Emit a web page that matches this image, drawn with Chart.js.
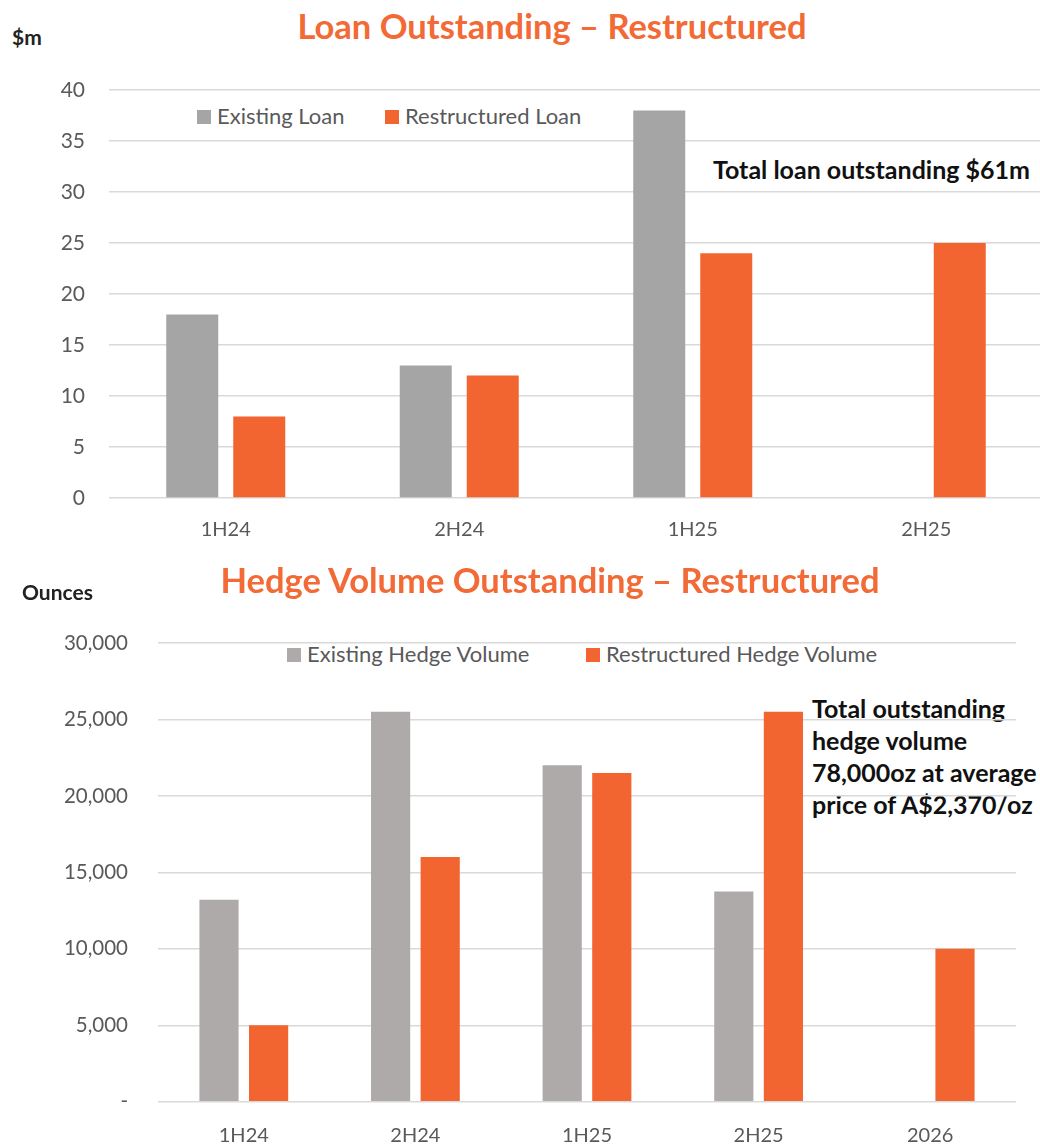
<!DOCTYPE html>
<html>
<head>
<meta charset="utf-8">
<script src="https://cdn.jsdelivr.net/npm/chart.js@4.4.1/dist/chart.umd.min.js"></script>
<style>
    html, body { margin: 0; padding: 0; background: #fff; overflow: hidden; }
    body { width: 1040px; height: 1144px; position: relative; font-family: Lato, "Open Sans", sans-serif; }
    .box { position: absolute; left: 0; }
    .txt { position: absolute; white-space: nowrap; line-height: 1; }
    .title { color: #F26A35; font-weight: bold; font-size: 34.5px; width: 1040px; text-align: center; }
    .unit { color: #222; font-weight: bold; font-size: 21px; }
    .note { color: #111; font-weight: bold; font-size: 25px; }
    .legend { position: absolute; font-size: 22px; color: #595959; white-space: nowrap; line-height: 1; }
    .legend span.sw { display: inline-block; width: 14px; height: 14px; margin-right: 6px; vertical-align: 0px; }
</style>
</head>
<body>
<div class="txt title" style="top:9px; left:32px;">Loan Outstanding – Restructured</div>
<div class="txt unit" style="top:26px; left:12px;">$m</div>
<div class="legend" style="top:105px; left:197px;"><span class="sw" style="background:#A5A5A5"></span>Existing Loan</div>
<div class="legend" style="top:105px; left:385px;"><span class="sw" style="background:#F26531"></span>Restructured Loan</div>
<div class="txt note" style="top:157px; left:713px;">Total loan outstanding $61m</div>
<div class="box" style="top:0; width:1060px; height:560px;"><canvas id="loanChart" width="1060" height="560"></canvas></div>

<div class="txt title" style="top:563px; left:30px;">Hedge Volume Outstanding – Restructured</div>
<div class="txt unit" style="top:581px; left:22px;">Ounces</div>
<div class="legend" style="top:643px; left:287px;"><span class="sw" style="background:#AEAAAA"></span>Existing Hedge Volume</div>
<div class="legend" style="top:643px; left:586px;"><span class="sw" style="background:#F26531"></span>Restructured Hedge Volume</div>
<div class="txt note" style="top:692px; left:812px; line-height:32px;">Total outstanding<br>hedge volume<br>78,000oz at average<br>price of A$2,370/oz</div>
<div class="box" style="top:560px; width:1040px; height:584px;"><canvas id="hedgeChart" width="1040" height="584"></canvas></div>

<script>
// Loan chart data ($m)
const loanCategories = ['1H24', '2H24', '1H25', '2H25'];
const existingLoan = [18, 13, 38, null];
const restructuredLoan = [8, 12, 24, 25];
const loanTicks = [0, 5, 10, 15, 20, 25, 30, 35, 40];

// Hedge chart data (ounces)
const hedgeCategories = ['1H24', '2H24', '1H25', '2H25', '2026'];
const existingHedge = [13200, 25500, 22000, 13750, null];
const restructuredHedge = [5000, 16000, 21500, 25500, 10000];
const hedgeTicks = [0, 5000, 10000, 15000, 20000, 25000, 30000];

const GRID = '#D9D9D9';
const TICK = '#595959';
const FONT = 'Lato, "Open Sans", sans-serif';

const makeChart = (id, cfg) => {
    const ctx = document.getElementById(id).getContext('2d');
    return new Chart(ctx, {
        type: 'bar',
        data: {
            labels: cfg.labels,
            datasets: [
                { label: cfg.names[0], data: cfg.series[0], backgroundColor: cfg.colors[0] },
                { label: cfg.names[1], data: cfg.series[1], backgroundColor: cfg.colors[1] }
            ]
        },
        options: {
            responsive: false,
            animation: false,
            categoryPercentage: cfg.cp,
            barPercentage: cfg.bp,
            layout: { padding: cfg.padding },
            plugins: {
                legend: { display: false },
                tooltip: { enabled: false },
                title: { display: false }
            },
            scales: {
                x: {
                    grid: { display: false },
                    border: { display: false },
                    ticks: { color: TICK, font: { family: FONT, size: 20 }, padding: cfg.xPad },
                    afterFit: scale => { scale.height = cfg.xHeight; }
                },
                y: {
                    min: cfg.ticks[0],
                    max: cfg.ticks[cfg.ticks.length - 1],
                    afterBuildTicks: scale => { scale.ticks = cfg.ticks.map(v => ({ value: v })); },
                    grid: { color: GRID, lineWidth: 1.5, drawTicks: false },
                    border: { display: false },
                    ticks: {
                        color: TICK,
                        font: { family: FONT, size: cfg.ySize },
                        padding: cfg.yPad,
                        callback: cfg.format
                    },
                    afterFit: scale => { scale.width = cfg.yWidth; }
                }
            }
        }
    });
};

makeChart('loanChart', {
    labels: loanCategories,
    names: ['Existing Loan', 'Restructured Loan'],
    series: [existingLoan, restructuredLoan],
    colors: ['#A5A5A5', '#F26531'],
    ticks: loanTicks,
    cp: 0.574,
    bp: 0.776,
    padding: { top: 90, right: 17, bottom: 0, left: 0 },
    yWidth: 109,
    yPad: 24,
    ySize: 21,
    xHeight: 62,
    xPad: 12,
    format: v => String(v)
});

makeChart('hedgeChart', {
    labels: hedgeCategories,
    names: ['Existing Hedge Volume', 'Restructured Hedge Volume'],
    series: [existingHedge, restructuredHedge],
    colors: ['#AEAAAA', '#F26531'],
    ticks: hedgeTicks,
    cp: 0.578,
    bp: 0.79,
    padding: { top: 83, right: 24, bottom: 0, left: 0 },
    yWidth: 158,
    yPad: 30,
    ySize: 20.5,
    xHeight: 41,
    xPad: 14,
    format: v => v === 0 ? '-' : v.toLocaleString('en-US')
});
</script>
</body>
</html>
